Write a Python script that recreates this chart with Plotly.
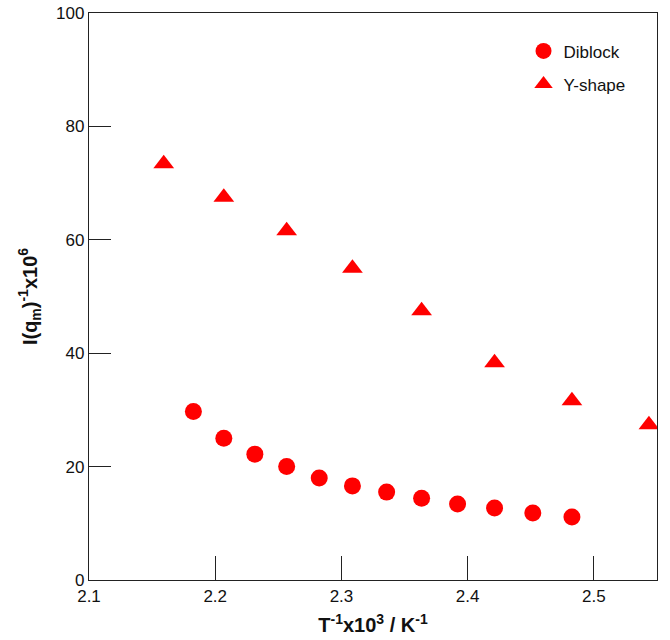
import plotly.graph_objects as go

# 1000/T for T = 458.15 ... 403.15 K (185 ... 130 °C)
diblock_x = [2.1827, 2.2068, 2.2314, 2.2566, 2.2824, 2.3087, 2.3358, 2.3635, 2.3920, 2.4213, 2.4516, 2.4826]
diblock_y = [29.7, 25.0, 22.2, 20.0, 18.0, 16.6, 15.5, 14.4, 13.4, 12.7, 11.8, 11.1]

# 1000/T for T = 463.15 ... 393.15 K (190 ... 120 °C, step 10)
yshape_x = [2.1592, 2.2068, 2.2566, 2.3087, 2.3635, 2.4213, 2.4826, 2.5436]
yshape_y = [73.4, 67.5, 61.6, 55.0, 47.5, 38.3, 31.6, 27.4]

x_ticks = [2.1, 2.2, 2.3, 2.4, 2.5]
y_ticks = [0, 20, 40, 60, 80, 100]

RED = "#ff0000"
FONT = "Liberation Sans, Arial, sans-serif"

fig = go.Figure()
fig.add_trace(go.Scatter(
    x=diblock_x, y=diblock_y, mode="markers", name="Diblock",
    legendgroup="a",
    marker=dict(symbol="circle", size=17, color=RED, line=dict(width=0)),
))
fig.add_trace(go.Scatter(
    x=yshape_x, y=yshape_y, mode="markers", name="Y-shape",
    legendgroup="b",
    marker=dict(symbol="triangle-up", size=18, color=RED, line=dict(width=0)),
))

axis_common = dict(
    showline=True, linecolor="#222", linewidth=1.3, mirror=True,
    ticks="inside", tickcolor="#222", tickwidth=1,
    showgrid=False, zeroline=False, automargin=False,
    tickfont=dict(family=FONT, size=17, color="#111"),
)

fig.update_layout(
    width=670, height=640,
    margin=dict(l=89, r=13, t=13, b=60),
    paper_bgcolor="white", plot_bgcolor="white",
    font=dict(family=FONT, color="#111"),
    xaxis=dict(
        range=[2.1, 2.55], tickvals=x_ticks, ticktext=[f"{v:.1f}" for v in x_ticks],
        ticklen=24,
        title=dict(text="<b>T<sup>-1</sup>x10<sup>3</sup> / K<sup>-1</sup></b>",
                   font=dict(family=FONT, size=20, color="#111"), standoff=13),
        **axis_common,
    ),
    yaxis=dict(
        range=[0, 100], tickvals=y_ticks, ticktext=[str(v) for v in y_ticks],
        ticklen=22,
        title=dict(text="<b>I(q<sub>m</sub>)<sup>-1</sup>x10<sup>6</sup></b>",
                   font=dict(family=FONT, size=20, color="#111"), standoff=13),
        **axis_common,
    ),
    legend=dict(
        x=0.765, y=0.964, xanchor="left", yanchor="top",
        bgcolor="rgba(0,0,0,0)", borderwidth=0,
        font=dict(family=FONT, size=17, color="#111"),
        traceorder="grouped", tracegroupgap=8,
    ),
)

fig.write_html("out.html")
